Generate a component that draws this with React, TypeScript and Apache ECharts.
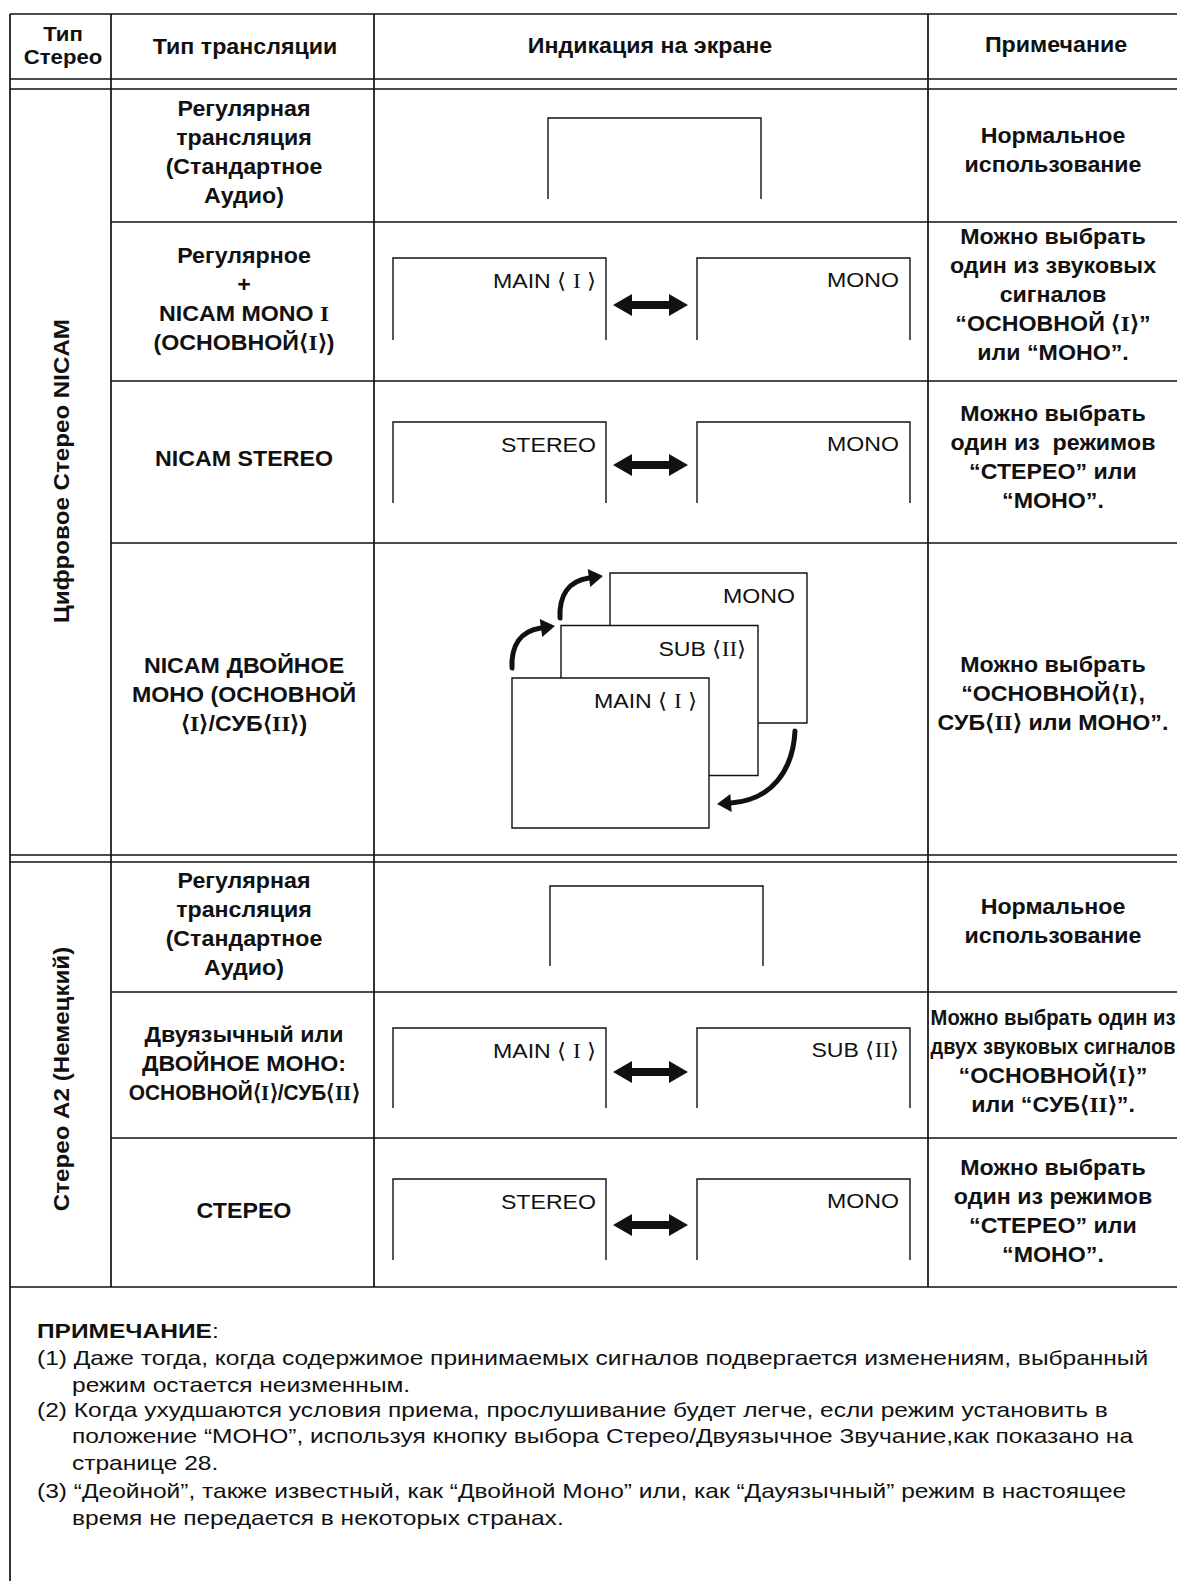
import React, { useEffect, useRef } from 'react';
import * as echarts from 'echarts';

// ---------- content ----------
const headerStereo = ['Тип', 'Стерео'];
const headerCols = ['Тип трансляции', 'Индикация на экране', 'Примечание'];
const sections = ['Цифровое Стерео NICAM', 'Стерео А2 (Немецкий)'];

const broadcastTypes: string[][] = [
  ['Регулярная', 'трансляция', '(Стандартное', 'Аудио)'],
  ['Регулярное', '+', 'NICAM MONO I', '(ОСНОВНОЙ⟨I⟩)'],
  ['NICAM STEREO'],
  ['NICAM ДВОЙНОЕ', 'МОНО (ОСНОВНОЙ', '⟨I⟩/СУБ⟨II⟩)'],
  ['Регулярная', 'трансляция', '(Стандартное', 'Аудио)'],
  ['Двуязычный или', 'ДВОЙНОЕ МОНО:', 'ОСНОВНОЙ⟨I⟩/СУБ⟨II⟩'],
  ['СТЕРЕО'],
];

const pairLabels: string[][] = [
  ['MAIN ⟨ I ⟩', 'MONO'],
  ['STEREO', 'MONO'],
  ['MAIN ⟨ I ⟩', 'SUB ⟨II⟩'],
  ['STEREO', 'MONO'],
];
const stackLabels = ['MONO', 'SUB ⟨II⟩', 'MAIN ⟨ I ⟩'];

const remarks: string[][] = [
  ['Нормальное', 'использование'],
  ['Можно выбрать', 'один из звуковых', 'сигналов', '“ОСНОВНОЙ ⟨I⟩”', 'или “МОНО”.'],
  ['Можно выбрать', 'один из  режимов', '“СТЕРЕО” или', '“МОНО”.'],
  ['Можно выбрать', '“ОСНОВНОЙ⟨I⟩,', 'СУБ⟨II⟩ или МОНО”.'],
  ['Нормальное', 'использование'],
  ['Можно выбрать один из', 'двух звуковых сигналов', '“ОСНОВНОЙ⟨I⟩”', 'или “СУБ⟨II⟩”.'],
  ['Можно выбрать', 'один из режимов', '“СТЕРЕО” или', '“МОНО”.'],
];

const noteTitle = 'ПРИМЕЧАНИЕ';
const footnotes: string[][] = [
  ['(1) Даже тогда, когда содержимое принимаемых сигналов подвергается изменениям, выбранный', 'режим остается неизменным.'],
  ['(2) Когда ухудшаются условия приема, прослушивание будет легче, если режим установить в', 'положение “МОНО”, используя кнопку выбора Стерео/Двуязычное Звучание,как показано на', 'странице 28.'],
  ['(3) “Деойной”, также известный, как “Двойной Моно” или, как “Дауязычный” режим в настоящее', 'время не передается в некоторых странах.'],
];

// ---------- layout ----------
const W = 1177;
const H = 1581;
const SANS = '"Liberation Sans", Arial, Helvetica, sans-serif';
const SERIF = '"Liberation Serif", "DejaVu Serif", "Times New Roman", serif';
const INK = '#111111';

const LEFT = 10;
const TOP = 14;
const COLS = [111, 374, 928];
const HEAD_LINES = [79, 89];
const NICAM_ROW_LINES = [222, 381, 543];
const SECTION_LINES = [855, 862];
const A2_ROW_LINES = [992, 1138];
const TABLE_BOTTOM = 1287;

const COL2_CX = 244;
const NOTE_CX = 1053;
const COL2_CY = [152, 299, 459, 695, 924, 1064, 1211];
const NOTE_CY = [150, 295, 457, 694, 921, 1061, 1211];
const LH = 29;

const PAIR_ROWS = [
  { top: 258, bottom: 340, arrowY: 305 },
  { top: 422, bottom: 503, arrowY: 465 },
  { top: 1028, bottom: 1108, arrowY: 1072 },
  { top: 1179, bottom: 1260, arrowY: 1225 },
];
const PAIR_L = [393, 606];
const PAIR_R = [697, 910];
const OPEN_BOXES = [
  { x1: 548, x2: 761, top: 118, bottom: 199 },
  { x1: 550, x2: 763, top: 886, bottom: 966 },
];

function measure(text: string, font: string): number {
  const ctx = document.createElement('canvas').getContext('2d');
  if (!ctx) return 100;
  ctx.font = font;
  return ctx.measureText(text).width || 100;
}

function richify(s: string): string {
  return s.replace(/(I{1,2})(?=\s*⟩)/g, '{r|$1}').replace(/ I$/, ' {r|I}');
}

type TOpt = { size: number; bold?: boolean; align?: string; sx?: number; rot?: number };

function textEl(x: number, y: number, s: string, o: TOpt): any {
  const fw = o.bold ? 'bold' : 'normal';
  return {
    type: 'text',
    x,
    y,
    rotation: o.rot ?? 0,
    scaleX: o.sx ?? 1,
    scaleY: 1,
    silent: true,
    z: 10,
    style: {
      text: richify(s),
      fill: INK,
      fontSize: o.size,
      fontWeight: fw,
      fontFamily: SANS,
      align: o.align ?? 'center',
      verticalAlign: 'middle',
      textAlign: o.align ?? 'center',
      textVerticalAlign: 'middle',
      rich: {
        r: { fontSize: o.size, fontWeight: fw, fontFamily: SERIF, fill: INK },
      },
    },
  };
}

function lineEl(x1: number, y1: number, x2: number, y2: number, w = 1.7): any {
  return {
    type: 'line',
    silent: true,
    z: 5,
    shape: { x1, y1, x2, y2 },
    style: { stroke: INK, lineWidth: w },
  };
}

function openBox(x1: number, x2: number, top: number, bottom: number): any {
  return {
    type: 'polyline',
    silent: true,
    z: 5,
    shape: { points: [[x1, bottom], [x1, top], [x2, top], [x2, bottom]] },
    style: { stroke: INK, lineWidth: 1.4, fill: null },
  };
}

function doubleArrow(x1: number, x2: number, cy: number): any {
  const hl = 19, hh = 11, sh = 4;
  return {
    type: 'polygon',
    silent: true,
    z: 6,
    shape: {
      points: [
        [x1, cy], [x1 + hl, cy - hh], [x1 + hl, cy - sh], [x2 - hl, cy - sh], [x2 - hl, cy - hh],
        [x2, cy], [x2 - hl, cy + hh], [x2 - hl, cy + sh], [x1 + hl, cy + sh], [x1 + hl, cy + hh],
      ],
    },
    style: { fill: INK },
  };
}

function curvedArrow(p0: number[], p1: number[], p2: number[], p3: number[], tip: number[]): any[] {
  const dx = tip[0] - p3[0];
  const dy = tip[1] - p3[1];
  const len = Math.hypot(dx, dy);
  const nx = -dy / len;
  const ny = dx / len;
  const hw = 9;
  return [
    {
      type: 'bezierCurve',
      silent: true,
      z: 7,
      shape: { x1: p0[0], y1: p0[1], cpx1: p1[0], cpy1: p1[1], cpx2: p2[0], cpy2: p2[1], x2: p3[0], y2: p3[1] },
      style: { stroke: INK, lineWidth: 5, lineCap: 'round' },
    },
    {
      type: 'polygon',
      silent: true,
      z: 7,
      shape: { points: [[p3[0] + nx * hw, p3[1] + ny * hw], [tip[0], tip[1]], [p3[0] - nx * hw, p3[1] - ny * hw]] },
      style: { fill: INK },
    },
  ];
}

function buildElements(): any[] {
  const els: any[] = [];
  const boldFont = `bold 22px ${SANS}`;
  const sxB = 178 / measure('NICAM STEREO', boldFont);
  const sxV = 304 / measure(sections[0], boldFont);
  const sxS = 72 / measure('MONO', `21px ${SANS}`);
  const sxN = 1112 / measure(footnotes[0][0], `20px ${SANS}`);

  // ---- table lines ----
  els.push(lineEl(LEFT, TOP, W, TOP));
  els.push(lineEl(LEFT, TOP, LEFT, H));
  COLS.forEach((x) => els.push(lineEl(x, TOP, x, TABLE_BOTTOM)));
  HEAD_LINES.forEach((y) => els.push(lineEl(LEFT, y, W, y)));
  NICAM_ROW_LINES.forEach((y) => els.push(lineEl(COLS[0], y, W, y)));
  SECTION_LINES.forEach((y) => els.push(lineEl(LEFT, y, W, y)));
  A2_ROW_LINES.forEach((y) => els.push(lineEl(COLS[0], y, W, y)));
  els.push(lineEl(LEFT, TABLE_BOTTOM, W, TABLE_BOTTOM));

  // ---- header ----
  els.push(textEl(63, 34, headerStereo[0], { size: 21, bold: true, sx: sxB }));
  els.push(textEl(63, 57, headerStereo[1], { size: 21, bold: true, sx: sxB }));
  els.push(textEl(245, 47, headerCols[0], { size: 22, bold: true, sx: sxB }));
  els.push(textEl(650, 46, headerCols[1], { size: 22, bold: true, sx: sxB }));
  els.push(textEl(1056, 45, headerCols[2], { size: 22, bold: true, sx: sxB }));

  // ---- section labels (vertical) ----
  els.push(textEl(61, 471, sections[0], { size: 22, bold: true, sx: sxV, rot: Math.PI / 2 }));
  els.push(textEl(61, 1079, sections[1], { size: 22, bold: true, sx: sxV, rot: Math.PI / 2 }));

  // ---- broadcast type column ----
  broadcastTypes.forEach((lines, r) => {
    lines.forEach((s, i) => {
      const y = COL2_CY[r] + (i - (lines.length - 1) / 2) * LH;
      const sx = r === 5 && i === 2 ? sxB * 0.9 : sxB;
      els.push(textEl(COL2_CX, y, s, { size: 22, bold: true, sx }));
    });
  });

  // ---- remarks column ----
  remarks.forEach((lines, r) => {
    lines.forEach((s, i) => {
      const y = NOTE_CY[r] + (i - (lines.length - 1) / 2) * LH;
      let sx = sxB;
      if (r === 5 && i < 2) sx = 245 / measure(s, boldFont);
      els.push(textEl(NOTE_CX, y, s, { size: 22, bold: true, sx }));
    });
  });

  // ---- screens: open boxes ----
  OPEN_BOXES.forEach((b) => els.push(openBox(b.x1, b.x2, b.top, b.bottom)));

  // ---- screens: pairs with double arrows ----
  PAIR_ROWS.forEach((p, k) => {
    els.push(openBox(PAIR_L[0], PAIR_L[1], p.top, p.bottom));
    els.push(openBox(PAIR_R[0], PAIR_R[1], p.top, p.bottom));
    els.push(textEl(PAIR_L[1] - 10, p.top + 23, pairLabels[k][0], { size: 21, align: 'right', sx: sxS }));
    els.push(textEl(PAIR_R[1] - 11, p.top + 22, pairLabels[k][1], { size: 21, align: 'right', sx: sxS }));
    els.push(doubleArrow(613, 688, p.arrowY));
  });

  // ---- screens: stacked dual-mono ----
  const bw = 197, bh = 150;
  const baseX = 512, baseY = 678, stepX = 49, stepY = -52.5;
  stackLabels.forEach((lab, k) => {
    const depth = stackLabels.length - 1 - k;
    const x = baseX + depth * stepX;
    const y = baseY + depth * stepY;
    els.push({
      type: 'rect',
      silent: true,
      z: 8,
      z2: k * 2,
      shape: { x, y, width: bw, height: bh },
      style: { fill: '#ffffff', stroke: INK, lineWidth: 1.4 },
    });
    const t = textEl(x + bw - 12, y + 23, lab, { size: 21, align: 'right', sx: sxS });
    t.z = 8;
    t.z2 = k * 2 + 1;
    els.push(t);
  });
  curvedArrow([512, 668], [511, 646], [520, 631], [541, 628], [555, 626]).forEach((e) => els.push(e));
  curvedArrow([560, 618], [559, 596], [568, 581], [589, 578], [603, 576]).forEach((e) => els.push(e));
  curvedArrow([795, 731], [793, 770], [772, 800], [731, 803], [717, 804]).forEach((e) => els.push(e));

  // ---- footnotes ----
  els.push({
    type: 'text',
    x: 37,
    y: 1331,
    scaleX: sxN,
    silent: true,
    z: 10,
    style: {
      text: `{b|${noteTitle}}:`,
      fill: INK,
      fontSize: 20,
      fontFamily: SANS,
      align: 'left',
      verticalAlign: 'middle',
      textAlign: 'left',
      textVerticalAlign: 'middle',
      rich: { b: { fontSize: 20, fontWeight: 'bold', fontFamily: SANS, fill: INK } },
    },
  });
  const noteY = [[1358, 1385], [1410, 1436, 1463], [1491, 1518]];
  footnotes.forEach((lines, n) => {
    lines.forEach((s, i) => {
      els.push(textEl(i === 0 ? 37 : 72, noteY[n][i], s, { size: 20, align: 'left', sx: sxN }));
    });
  });

  return els;
}

export default function App() {
  const ref = useRef<HTMLDivElement>(null);
  useEffect(() => {
    if (!ref.current) return;
    const chart = echarts.init(ref.current, null, { renderer: 'svg' });
    chart.setOption({
      animation: false,
      backgroundColor: '#ffffff',
      graphic: { elements: buildElements() },
    });
    return () => chart.dispose();
  }, []);
  return (
    <div
      ref={ref}
      style={{ position: 'fixed', left: 0, top: 0, width: W, height: H, background: '#ffffff' }}
    />
  );
}
